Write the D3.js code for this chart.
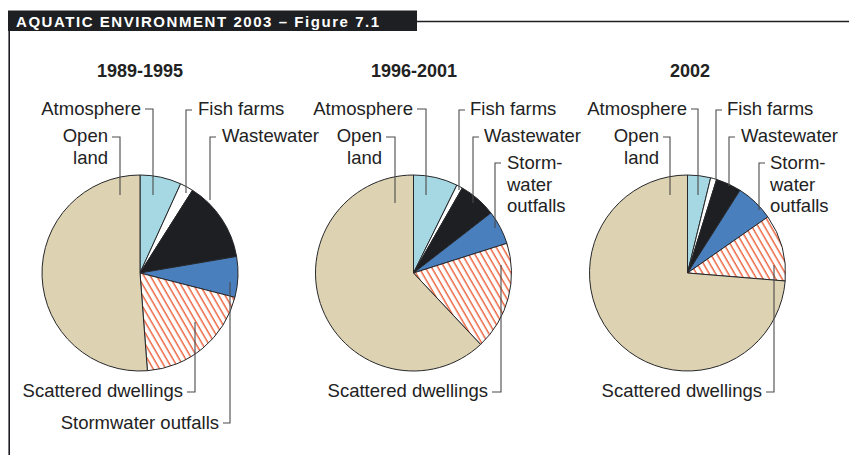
<!DOCTYPE html>
<html>
<head>
<meta charset="utf-8">
<script src="https://cdn.jsdelivr.net/npm/d3@7"></script>
<style>
  html, body { margin: 0; padding: 0; background: #ffffff; }
  svg { display: block; }
  text { font-family: "Liberation Sans", Arial, Helvetica, sans-serif; fill: #222; }
</style>
</head>
<body>
<svg id="chart" width="849" height="455"></svg>
<script>
// ---- data ----
const figureTitle = "AQUATIC ENVIRONMENT 2003 \u2013 Figure 7.1";
const categories = ["Atmosphere", "Fish farms", "Wastewater", "Stormwater outfalls", "Scattered dwellings", "Open land"];
const periods = ["1989-1995", "1996-2001", "2002"];
const values1989_1995 = [6.8, 2.2, 13.3, 6.7, 19.8, 51.2];
const values1996_2001 = [7.3, 1.0, 6.2, 5.6, 17.9, 62.0];
const values2002 = [3.8, 1.0, 4.2, 6.3, 11.0, 73.7];
const seriesValues = [values1989_1995, values1996_2001, values2002];

// ---- styles ----
const colors = {
  "Atmosphere": "#a5d8e3",
  "Fish farms": "#ffffff",
  "Wastewater": "#1e1f22",
  "Stormwater outfalls": "#4a7fbe",
  "Scattered dwellings": "url(#hatch)",
  "Open land": "#ddd3b3"
};

// ---- layout (positions only) ----
const pieCenters = [140, 413.5, 687.5];
const titleXs = [140, 414, 690];
const pieCy = 273, pieR = 98;
const titleY = 77;
const labelSize = "18.5px";
// label layout per pie: lines of text, text anchor, text x, first baseline, leader (tick from x0 to lineX at tickY, vertical to endY)
const labelLayouts = [
  [
    {cat: 0, lines: ["Atmosphere"], anchor: "end", tx: 141, ty: 115, x0: 145, lx: 153, tickY: 109, endY: 195},
    {cat: 1, lines: ["Fish farms"], anchor: "start", tx: 198, ty: 115, x0: 192, lx: 186, tickY: 110, endY: 193},
    {cat: 2, lines: ["Wastewater"], anchor: "start", tx: 222, ty: 142, x0: 216, lx: 210, tickY: 137, endY: 200},
    {cat: 3, lines: ["Stormwater outfalls"], anchor: "end", tx: 219, ty: 429, x0: 223, lx: 230, tickY: 423, endY: 282},
    {cat: 4, lines: ["Scattered dwellings"], anchor: "end", tx: 183, ty: 397, x0: 187, lx: 195, tickY: 392, endY: 322},
    {cat: 5, lines: ["Open", "land"], anchor: "end", tx: 108, ty: 142, x0: 112, lx: 120, tickY: 137, endY: 195}
  ],
  [
    {cat: 0, lines: ["Atmosphere"], anchor: "end", tx: 413, ty: 115, x0: 417, lx: 426, tickY: 109, endY: 195},
    {cat: 1, lines: ["Fish farms"], anchor: "start", tx: 470, ty: 115, x0: 465, lx: 459, tickY: 110, endY: 190},
    {cat: 2, lines: ["Wastewater"], anchor: "start", tx: 484, ty: 142, x0: 479, lx: 473, tickY: 137, endY: 203},
    {cat: 3, lines: ["Storm-", "water", "outfalls"], anchor: "start", tx: 507, ty: 169, x0: 501, lx: 495, tickY: 163, endY: 228},
    {cat: 4, lines: ["Scattered dwellings"], anchor: "end", tx: 488, ty: 397, x0: 492, lx: 501, tickY: 392, endY: 265},
    {cat: 5, lines: ["Open", "land"], anchor: "end", tx: 382, ty: 142, x0: 386, lx: 395, tickY: 137, endY: 203}
  ],
  [
    {cat: 0, lines: ["Atmosphere"], anchor: "end", tx: 687, ty: 115, x0: 691, lx: 698, tickY: 109, endY: 195},
    {cat: 1, lines: ["Fish farms"], anchor: "start", tx: 727, ty: 115, x0: 722, lx: 716, tickY: 110, endY: 179},
    {cat: 2, lines: ["Wastewater"], anchor: "start", tx: 741, ty: 142, x0: 735, lx: 729, tickY: 137, endY: 186},
    {cat: 3, lines: ["Storm-", "water", "outfalls"], anchor: "start", tx: 770, ty: 169, x0: 765, lx: 759, tickY: 163, endY: 210},
    {cat: 4, lines: ["Scattered dwellings"], anchor: "end", tx: 762, ty: 397, x0: 766, lx: 774, tickY: 392, endY: 265},
    {cat: 5, lines: ["Open", "land"], anchor: "end", tx: 659, ty: 142, x0: 663, lx: 670, tickY: 137, endY: 195}
  ]
];

const svg = d3.select("#chart");

// hatch pattern
const defs = svg.append("defs");
const pat = defs.append("pattern")
  .attr("id", "hatch")
  .attr("patternUnits", "userSpaceOnUse")
  .attr("width", 5.5).attr("height", 10)
  .attr("patternTransform", "rotate(-30)");
pat.append("rect").attr("width", 5.5).attr("height", 10).attr("fill", "#ffffff");
pat.append("line").attr("x1", 2).attr("y1", 0).attr("x2", 2).attr("y2", 10)
  .attr("stroke", "#ea5228").attr("stroke-width", 1.3);

// frame
svg.append("rect").attr("x", 8).attr("y", 10.5).attr("width", 409).attr("height", 20.5).attr("fill", "#1e1f22");
svg.append("line").attr("x1", 417).attr("y1", 21.5).attr("x2", 849).attr("y2", 21.5)
  .attr("stroke", "#1e1f22").attr("stroke-width", 1.6);
svg.append("line").attr("x1", 9.2).attr("y1", 31).attr("x2", 9.2).attr("y2", 455)
  .attr("stroke", "#1e1f22").attr("stroke-width", 1.6);
svg.append("text").attr("x", 16).attr("y", 26.5)
  .style("fill", "#ffffff").style("font-weight", "bold").style("font-size", "15px")
  .style("letter-spacing", "1.55px")
  .text(figureTitle);

const pie = d3.pie().sort(null).value(d => d);
const arc = d3.arc().innerRadius(0).outerRadius(pieR);

seriesValues.forEach((vals, i) => {
  const cx = pieCenters[i];
  const g = svg.append("g").attr("transform", `translate(${cx},${pieCy})`);
  g.selectAll("path").data(pie(vals)).join("path")
    .attr("d", arc)
    .attr("fill", (d, k) => colors[categories[k]])
    .attr("stroke", "#26272a")
    .attr("stroke-width", 1)
    .attr("stroke-linejoin", "round");

  svg.append("text").attr("x", titleXs[i]).attr("y", titleY)
    .attr("text-anchor", "middle")
    .style("font-weight", "bold").style("font-size", "18px")
    .text(periods[i]);

  labelLayouts[i].forEach(L => {
    svg.append("path")
      .attr("d", `M${L.x0},${L.tickY}H${L.lx}V${L.endY}`)
      .attr("fill", "none").attr("stroke", "#4a4a4a").attr("stroke-width", 1.1);
    const t = svg.append("text").attr("text-anchor", L.anchor).style("font-size", labelSize);
    L.lines.forEach((ln, j) => {
      t.append("tspan").attr("x", L.tx).attr("y", L.ty + j * 21.5).text(ln);
    });
  });
});
</script>
</body>
</html>
